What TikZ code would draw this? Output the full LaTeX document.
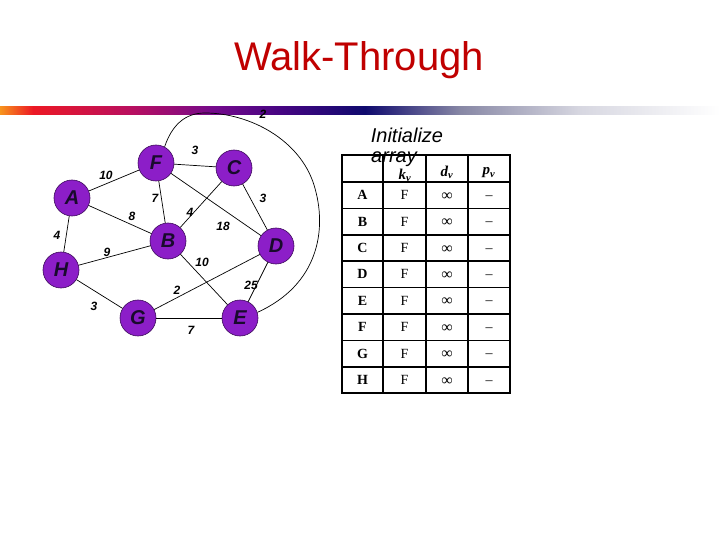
\documentclass[tikz,border=0pt]{standalone}
\usepackage{fontspec}
\setmainfont{Liberation Serif}
\setsansfont{Liberation Sans}
\definecolor{nodepurple}{RGB}{140,30,200}
\definecolor{nodeedge}{RGB}{60,10,90}
\definecolor{titlered}{RGB}{192,0,0}
\definecolor{lettercol}{RGB}{25,10,45}
\definecolor{g0}{RGB}{247,148,29}
\definecolor{g1}{RGB}{236,24,36}
\definecolor{g2}{RGB}{185,15,95}
\definecolor{g3}{RGB}{115,10,140}
\definecolor{g4}{RGB}{70,5,130}
\definecolor{g5}{RGB}{15,10,110}
\definecolor{g6}{RGB}{135,135,165}
\definecolor{g7}{RGB}{215,215,225}
\begin{document}
\begin{tikzpicture}[x=1pt,y=-1pt,
  vtx/.style={circle,minimum size=36pt,inner sep=0pt,fill=nodepurple,draw=nodeedge,line width=0.6pt,
    font=\sffamily\bfseries\itshape\fontsize{20}{20}\selectfont,text=lettercol},
  wt/.style={font=\sffamily\bfseries\itshape\fontsize{12}{12}\selectfont,inner sep=0pt},
  edge/.style={line width=0.7pt},
  cell/.style={font=\fontsize{14}{14}\selectfont,inner sep=0pt},
  hcell/.style={font=\bfseries\itshape\fontsize{15}{15}\selectfont,inner sep=0pt},
  grid/.style={line width=1.6pt}]
\useasboundingbox (0,0) rectangle (720,540);
% gradient bar
\shade[left color=g0,right color=g1] (0,107) rectangle (33,115);
\shade[left color=g1,right color=g2] (33,107) rectangle (130,115);
\shade[left color=g2,right color=g3] (130,107) rectangle (215,115);
\shade[left color=g3,right color=g4] (215,107) rectangle (280,115);
\shade[left color=g4,right color=g5] (280,107) rectangle (365,115);
\shade[left color=g5,right color=g6] (365,107) rectangle (460,115);
\shade[left color=g6,right color=g7] (460,107) rectangle (580,115);
\shade[left color=g7,right color=white] (580,107) rectangle (720,115);
% title
\node[font=\sffamily\fontsize{40}{40}\selectfont,text=titlered] (title) at (359,60) {Walk-Through};
% vertices
\node[vtx] (F) at (156,163) {F};
\node[vtx] (C) at (234,168) {C};
\node[vtx] (A) at (72,198) {A};
\node[vtx] (B) at (168,241) {B};
\node[vtx] (D) at (276,246) {D};
\node[vtx] (H) at (61,270) {H};
\node[vtx] (G) at (138,318) {G};
\node[vtx] (E) at (240,318) {E};
% edges
\draw[edge] (A) -- (F);
\draw[edge] (F) -- (C);
\draw[edge] (F) -- (B);
\draw[edge] (F) -- (D);
\draw[edge] (A) -- (B);
\draw[edge] (C) -- (B);
\draw[edge] (C) -- (D);
\draw[edge] (A) -- (H);
\draw[edge] (H) -- (B);
\draw[edge] (B) -- (E);
\draw[edge] (H) -- (G);
\draw[edge] (G) -- (D);
\draw[edge] (D) -- (E);
\draw[edge] (G) -- (E);
\draw[edge] (F.62) .. controls (172,125) and (185,113) .. (205,113)
  .. controls (250,113) and (300,140) .. (314,185)
  .. controls (328,230) and (318,285) .. (E.18);
% weights
\node[wt] (wAF) at (106,175) {10};
\node[wt] (wFC) at (195,150) {3};
\node[wt] (wFB) at (155,198) {7};
\node[wt] (wAB) at (132,216) {8};
\node[wt] (wCB) at (190,212) {4};
\node[wt] (wFD) at (223,226) {18};
\node[wt] (wCD) at (263,198) {3};
\node[wt] (wAH) at (57,235) {4};
\node[wt] (wHB) at (107,252) {9};
\node[wt] (wBE) at (202,262) {10};
\node[wt] (wGD) at (177,290) {2};
\node[wt] (wDE) at (251,285) {25};
\node[wt] (wHG) at (94,306) {3};
\node[wt] (wGE) at (191,330) {7};
\node[wt] (wFE) at (263,114) {2};
% table
\draw[grid] (342,155) rectangle (510,393);
\foreach \x in {383,426,468} \draw[grid] (\x,155) -- (\x,393);
\foreach \i in {0,...,7} \draw[grid] (342,{182+26.4*\i}) -- (510,{182+26.4*\i});
\node[hcell] (hk) at (405,175) {k\textsubscript{v}};
\node[hcell] (hd) at (447,172) {d\textsubscript{v}};
\node[hcell] (hp) at (489,173) {p\textsubscript{v}};
\foreach \n [count=\i from 0] in {A,B,C,D,E,F,G,H} {
  \node[cell,font=\bfseries\fontsize{14}{14}\selectfont] (r\n) at (362.5,{195.2+26.4*\i}) {\n};
  \node[cell] (k\n) at (404.5,{195.2+26.4*\i}) {F};
  \node[cell,font=\fontsize{16}{16}\selectfont] (d\n) at (447,{196.5+26.4*\i}) {∞};
  \node[cell] (p\n) at (489,{197.5+26.4*\i}) {–};
}
% caption
\node[font=\sffamily\itshape\fontsize{20}{20}\selectfont] (init) at (407,135) {Initialize};
\node[font=\sffamily\itshape\fontsize{20}{20}\selectfont] (arr) at (394,159) {array};
\end{tikzpicture}
\end{document}
